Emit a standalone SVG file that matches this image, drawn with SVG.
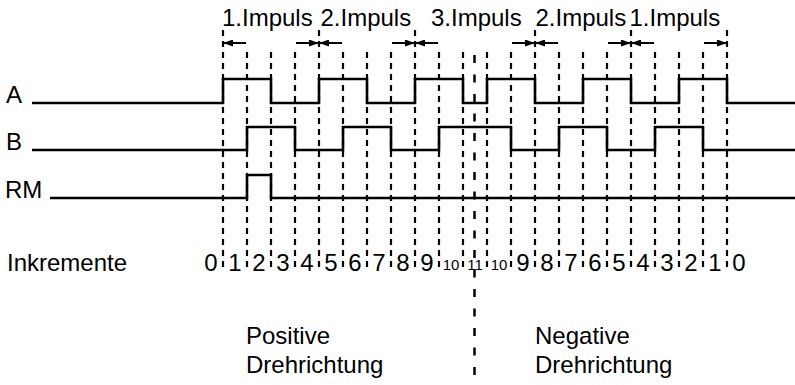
<svg xmlns="http://www.w3.org/2000/svg" width="795" height="385" viewBox="0 0 795 385">
<defs>
<style>
.t{font-family:"Liberation Sans",Arial,sans-serif;font-size:24px;fill:#000}
.s{font-family:"Liberation Sans",Arial,sans-serif;font-size:15px;fill:#000}
.m{text-anchor:middle}
.d{stroke:#000;stroke-width:2.2;stroke-dasharray:6 5;fill:none}
.c{stroke:#000;stroke-width:2.5;stroke-dasharray:8 11.5;fill:none}
.sig{stroke:#000;stroke-width:2.6;fill:none;stroke-linejoin:miter}
.ar{stroke:#000;stroke-width:2;fill:none}
</style>
<marker id="ah" viewBox="0 0 10 7" refX="10" refY="3.5" markerWidth="10" markerHeight="7" markerUnits="userSpaceOnUse" orient="auto">
<path d="M0,0 L10,3.5 L0,7 Z" fill="#000"/>
</marker>
</defs>
<rect width="795" height="385" fill="#fff"/>
<g id="grid">
<line class="d" x1="223" y1="30" x2="223" y2="272"/>
<line class="d" x1="247" y1="52" x2="247" y2="272"/>
<line class="d" x1="271" y1="52" x2="271" y2="272"/>
<line class="d" x1="295" y1="52" x2="295" y2="272"/>
<line class="d" x1="319" y1="30" x2="319" y2="272"/>
<line class="d" x1="343" y1="52" x2="343" y2="272"/>
<line class="d" x1="367" y1="52" x2="367" y2="272"/>
<line class="d" x1="391" y1="52" x2="391" y2="272"/>
<line class="d" x1="415" y1="30" x2="415" y2="272"/>
<line class="d" x1="439" y1="52" x2="439" y2="272"/>
<line class="d" x1="463" y1="52" x2="463" y2="272"/>
<line class="d" x1="487" y1="52" x2="487" y2="272"/>
<line class="d" x1="511" y1="52" x2="511" y2="272"/>
<line class="d" x1="535" y1="30" x2="535" y2="272"/>
<line class="d" x1="559" y1="52" x2="559" y2="272"/>
<line class="d" x1="583" y1="52" x2="583" y2="272"/>
<line class="d" x1="607" y1="52" x2="607" y2="272"/>
<line class="d" x1="631" y1="30" x2="631" y2="272"/>
<line class="d" x1="655" y1="52" x2="655" y2="272"/>
<line class="d" x1="679" y1="52" x2="679" y2="272"/>
<line class="d" x1="703" y1="52" x2="703" y2="272"/>
<line class="d" x1="727" y1="30" x2="727" y2="272"/>
<line class="c" x1="474.5" y1="55" x2="474.5" y2="385"/>
</g>
<g id="arrows">
<line class="ar" x1="246" y1="43" x2="223" y2="43" marker-end="url(#ah)"/>
<line class="ar" x1="296" y1="43" x2="319" y2="43" marker-end="url(#ah)"/>
<line class="ar" x1="342" y1="43" x2="319" y2="43" marker-end="url(#ah)"/>
<line class="ar" x1="392" y1="43" x2="415" y2="43" marker-end="url(#ah)"/>
<line class="ar" x1="438" y1="43" x2="415" y2="43" marker-end="url(#ah)"/>
<line class="ar" x1="512" y1="43" x2="535" y2="43" marker-end="url(#ah)"/>
<line class="ar" x1="558" y1="43" x2="535" y2="43" marker-end="url(#ah)"/>
<line class="ar" x1="608" y1="43" x2="631" y2="43" marker-end="url(#ah)"/>
<line class="ar" x1="654" y1="43" x2="631" y2="43" marker-end="url(#ah)"/>
<line class="ar" x1="704" y1="43" x2="727" y2="43" marker-end="url(#ah)"/>
</g>
<g id="signal-A">
<text class="t" x="6" y="103">A</text>
<path class="sig" d="M32 103 H223 V79 H271 V103 H319 V79 H367 V103 H415 V79 H463 V103 H487 V79 H535 V103 H583 V79 H631 V103 H679 V79 H727 V103 H795"/>
</g>
<g id="signal-B">
<text class="t" x="6" y="150">B</text>
<path class="sig" d="M32 150 H247 V127 H295 V150 H343 V127 H391 V150 H439 V127 H511 V150 H559 V127 H607 V150 H655 V127 H703 V150 H795"/>
</g>
<g id="signal-RM">
<text class="t" x="5" y="198">RM</text>
<path class="sig" d="M50 198 H247 V175 H271 V198 H795"/>
</g>
<g id="impulse-labels">
<text class="t" x="222" y="26">1.Impuls</text>
<text class="t" x="320.5" y="26">2.Impuls</text>
<text class="t" x="431" y="26">3.Impuls</text>
<text class="t" x="535.5" y="26">2.Impuls</text>
<text class="t" x="629.5" y="26">1.Impuls</text>
</g>
<g id="increments">
<text class="t" x="7" y="271">Inkremente</text>
<text class="t m" x="211" y="271">0</text>
<text class="t m" x="235" y="271">1</text>
<text class="t m" x="259" y="271">2</text>
<text class="t m" x="283" y="271">3</text>
<text class="t m" x="307" y="271">4</text>
<text class="t m" x="331" y="271">5</text>
<text class="t m" x="355" y="271">6</text>
<text class="t m" x="379" y="271">7</text>
<text class="t m" x="403" y="271">8</text>
<text class="t m" x="427" y="271">9</text>
<text class="s m" x="451" y="270">10</text>
<text class="s m" x="475" y="270">11</text>
<text class="s m" x="499" y="270">10</text>
<text class="t m" x="523" y="271">9</text>
<text class="t m" x="547" y="271">8</text>
<text class="t m" x="571" y="271">7</text>
<text class="t m" x="595" y="271">6</text>
<text class="t m" x="619" y="271">5</text>
<text class="t m" x="643" y="271">4</text>
<text class="t m" x="667" y="271">3</text>
<text class="t m" x="691" y="271">2</text>
<text class="t m" x="715" y="271">1</text>
<text class="t m" x="739" y="271">0</text>
</g>
<g id="directions">
<text class="t" x="246" y="344">Positive</text>
<text class="t" x="246" y="373">Drehrichtung</text>
<text class="t" x="535" y="344">Negative</text>
<text class="t" x="535" y="373">Drehrichtung</text>
</g>
</svg>
